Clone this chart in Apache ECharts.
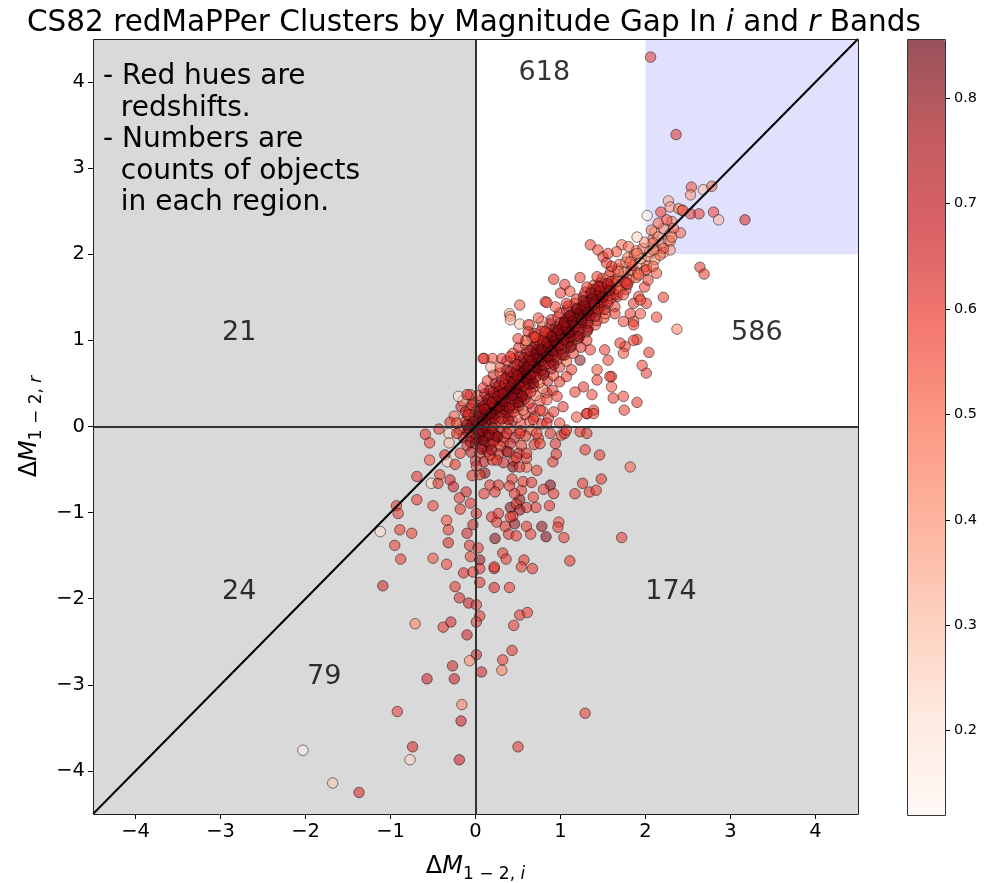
<!DOCTYPE html>
<html><head><meta charset="utf-8">
<script src="https://cdn.jsdelivr.net/npm/echarts@6/dist/echarts.min.js"></script>
<style>html,body{margin:0;padding:0;background:#fff}#c{width:991px;height:883px}</style>
</head><body><div id="c"></div>
<script>
// ---------- data ----------
const xTicks = [-4, -3, -2, -1, 0, 1, 2, 3, 4];
const yTicks = [-4, -3, -2, -1, 0, 1, 2, 3, 4];
const colorbarTicks = [0.2, 0.3, 0.4, 0.5, 0.6, 0.7, 0.8];
const axisMin = -4.5, axisMax = 4.5;
const zMin = 0.12, zMax = 0.856;
const highlightFrom = 2;          // lavender box lower-left corner (x = y = 2)
const diagonal = [[-4.5, -4.5], [4.5, 4.5]];

const regionCounts = ['618', '586', '21', '24', '79', '174'];
const regionCountX = [0.81, 3.31, -2.78, -2.78, -1.78, 2.30];
const regionCountY = [4.10, 1.09, 1.09, -1.92, -2.91, -1.92];

const noteLines = ['- Red hues are', '  redshifts.', '- Numbers are', '  counts of objects', '  in each region.'];

// dense band along the 1:1 line  [dM_i, dM_r, z]
const bandPoints = [
[-0.12,0.06,.62],[-0.04,0.03,.71],[0.02,0.07,.55],[0.06,0.02,.68],[0.11,0.05,.49],[0.17,0.08,.77],[0.23,0.03,.58],[0.29,0.06,.64],[0.36,0.02,.42],[0.44,0.07,.7],[0.53,0.04,.61],[0.64,0.06,.52],[0.78,0.03,.66],
[-0.09,0.13,.57],[-0.01,0.11,.74],[0.04,0.15,.63],[0.09,0.1,.8],[0.14,0.14,.55],[0.2,0.11,.69],[0.27,0.15,.47],[0.34,0.1,.72],[0.41,0.13,.6],[0.49,0.11,.38],[0.58,0.14,.65],[0.7,0.12,.58],[0.86,0.1,.62],
[-0.06,0.21,.45],[0.01,0.18,.67],[0.07,0.22,.73],[0.13,0.19,.59],[0.19,0.23,.82],[0.25,0.18,.64],[0.31,0.21,.53],[0.39,0.2,.7],[0.47,0.22,.6],[0.56,0.19,.44],[0.67,0.21,.68],[0.79,0.18,.56],
[-0.02,0.28,.6],[0.06,0.3,.71],[0.12,0.26,.66],[0.19,0.29,.52],[0.26,0.31,.78],[0.32,0.27,.61],[0.39,0.3,.69],[0.46,0.26,.57],[0.54,0.29,.48],[0.63,0.27,.63],[0.76,0.3,.55],
[0.03,0.36,.54],[0.11,0.38,.68],[0.18,0.35,.74],[0.25,0.39,.6],[0.32,0.34,.66],[0.39,0.37,.8],[0.46,0.39,.51],[0.53,0.35,.7],[0.61,0.38,.59],[0.71,0.36,.46],[0.84,0.39,.64],
[0.09,0.45,.63],[0.17,0.42,.72],[0.25,0.46,.55],[0.32,0.43,.69],[0.39,0.47,.61],[0.46,0.42,.77],[0.53,0.45,.5],[0.6,0.43,.67],[0.69,0.46,.58],[0.79,0.44,.45],[0.91,0.42,.62],
[0.14,0.53,.59],[0.23,0.5,.7],[0.31,0.54,.64],[0.39,0.51,.53],[0.46,0.55,.75],[0.53,0.52,.62],[0.6,0.5,.68],[0.67,0.54,.57],[0.75,0.51,.49],[0.85,0.53,.66],
[0.21,0.6,.66],[0.29,0.62,.55],[0.37,0.58,.72],[0.45,0.61,.6],[0.52,0.63,.79],[0.59,0.59,.58],[0.66,0.62,.63],[0.73,0.6,.51],[0.81,0.63,.7],[0.92,0.59,.57],
[0.29,0.69,.57],[0.37,0.66,.69],[0.45,0.7,.62],[0.53,0.67,.74],[0.6,0.71,.55],[0.67,0.68,.66],[0.74,0.66,.6],[0.81,0.7,.47],[0.89,0.67,.68],[0.99,0.69,.61],
[0.37,0.76,.62],[0.45,0.79,.71],[0.53,0.75,.56],[0.61,0.78,.67],[0.68,0.74,.6],[0.75,0.77,.78],[0.82,0.79,.54],[0.89,0.75,.65],[0.97,0.78,.58],[1.07,0.76,.5],
[0.44,0.85,.58],[0.52,0.82,.67],[0.6,0.86,.73],[0.68,0.83,.61],[0.76,0.87,.55],[0.83,0.84,.7],[0.9,0.82,.63],[0.97,0.86,.49],[1.05,0.83,.66],[1.15,0.85,.6],
[0.51,0.92,.64],[0.59,0.95,.56],[0.67,0.91,.72],[0.75,0.94,.6],[0.83,0.9,.68],[0.91,0.93,.53],[0.98,0.95,.75],[1.05,0.91,.62],[1.13,0.94,.57],[1.24,0.92,.65],
[0.59,1.0,.6],[0.67,1.03,.69],[0.75,0.99,.55],[0.83,1.02,.73],[0.91,0.98,.62],[0.99,1.01,.67],[1.06,1.03,.58],[1.13,0.99,.71],[1.21,1.02,.54],[1.31,1.0,.63],
[0.69,1.08,.66],[0.77,1.11,.58],[0.85,1.07,.71],[0.93,1.1,.62],[1.01,1.06,.76],[1.08,1.09,.57],[1.15,1.11,.64],[1.23,1.07,.69],[1.31,1.1,.52],
[0.79,1.16,.61],[0.87,1.19,.7],[0.95,1.15,.56],[1.03,1.18,.68],[1.11,1.14,.63],[1.18,1.17,.74],[1.25,1.19,.59],[1.33,1.15,.66],[1.41,1.18,.55],
[0.89,1.24,.67],[0.97,1.27,.58],[1.05,1.23,.72],[1.13,1.26,.6],[1.21,1.22,.65],[1.28,1.25,.53],[1.35,1.27,.7],[1.43,1.23,.62],[1.51,1.26,.57],
[0.99,1.32,.6],[1.07,1.35,.68],[1.15,1.31,.55],[1.23,1.34,.71],[1.31,1.3,.63],[1.38,1.33,.58],[1.45,1.35,.66],[1.53,1.31,.5],
[1.09,1.4,.64],[1.17,1.43,.57],[1.25,1.39,.7],[1.33,1.42,.61],[1.41,1.38,.67],[1.48,1.41,.54],[1.56,1.43,.62],[1.64,1.39,.59],
[1.19,1.48,.59],[1.27,1.51,.66],[1.35,1.47,.62],[1.43,1.5,.56],[1.51,1.46,.69],[1.59,1.49,.52],[1.67,1.51,.63],
[1.29,1.56,.63],[1.37,1.59,.55],[1.45,1.55,.68],[1.53,1.58,.6],[1.61,1.54,.57],[1.69,1.57,.48],[1.77,1.59,.61],
[1.39,1.64,.58],[1.47,1.67,.65],[1.55,1.63,.53],[1.63,1.66,.62],[1.71,1.62,.45],[1.79,1.65,.56],
[1.49,1.72,.6],[1.57,1.75,.52],[1.65,1.71,.64],[1.73,1.74,.47],[1.81,1.7,.58],[1.89,1.73,.5],
[1.59,1.8,.55],[1.67,1.83,.62],[1.75,1.79,.44],[1.83,1.82,.57],[1.91,1.78,.49],[1.99,1.81,.4],
[1.69,1.88,.52],[1.77,1.91,.43],[1.85,1.87,.58],[1.93,1.9,.36],[2.01,1.86,.5],
[1.79,1.96,.47],[1.87,1.99,.55],[1.95,1.95,.33],[2.03,1.98,.46],[2.11,1.94,.4],
[1.89,2.04,.42],[1.97,2.07,.5],[2.05,2.03,.3],[2.13,2.06,.44],[2.21,2.02,.37],
[1.99,2.14,.38],[2.09,2.18,.46],[2.19,2.13,.28],[2.27,2.16,.41],
[2.11,2.26,.35],[2.21,2.3,.43],[2.29,2.24,.31]
];

// second, tighter layer of the core of the band
const corePoints = [
[0.0,0.09,.76],[0.07,0.08,.7],[0.15,0.1,.66],[0.22,0.09,.8],[0.31,0.09,.62],[0.39,0.08,.73],
[0.05,0.17,.69],[0.12,0.16,.78],[0.18,0.17,.63],[0.24,0.16,.74],[0.3,0.17,.67],[0.37,0.16,.8],[0.45,0.17,.6],
[0.1,0.24,.72],[0.16,0.25,.65],[0.22,0.24,.79],[0.29,0.25,.68],[0.36,0.24,.74],[0.43,0.25,.62],[0.51,0.24,.7],
[0.15,0.32,.77],[0.22,0.33,.66],[0.29,0.32,.73],[0.36,0.33,.8],[0.43,0.32,.64],[0.5,0.33,.71],[0.58,0.32,.67],
[0.21,0.4,.7],[0.28,0.41,.79],[0.35,0.4,.65],[0.42,0.41,.74],[0.5,0.4,.68],[0.57,0.41,.76],[0.65,0.4,.62],
[0.28,0.48,.74],[0.35,0.49,.67],[0.43,0.48,.81],[0.5,0.49,.7],[0.57,0.48,.64],[0.64,0.49,.77],
[0.35,0.56,.69],[0.42,0.57,.78],[0.5,0.56,.66],[0.57,0.57,.73],[0.64,0.56,.8],[0.71,0.57,.65],
[0.41,0.64,.75],[0.49,0.65,.68],[0.56,0.64,.79],[0.63,0.65,.7],[0.7,0.64,.66],[0.78,0.65,.74],
[0.49,0.72,.71],[0.57,0.73,.8],[0.64,0.72,.67],[0.71,0.73,.76],[0.78,0.72,.69],[0.86,0.73,.63],
[0.57,0.8,.77],[0.64,0.81,.69],[0.72,0.8,.74],[0.79,0.81,.66],[0.86,0.8,.79],[0.94,0.81,.7],
[0.64,0.88,.72],[0.72,0.89,.8],[0.79,0.88,.68],[0.87,0.89,.75],[0.94,0.88,.66],[1.01,0.89,.73],
[0.71,0.96,.76],[0.79,0.97,.67],[0.87,0.96,.8],[0.95,0.97,.71],[1.02,0.96,.64],[1.09,0.97,.74],
[0.8,1.04,.7],[0.88,1.05,.78],[0.96,1.04,.66],[1.04,1.05,.73],[1.11,1.04,.79],[1.19,1.05,.68],
[0.91,1.12,.74],[0.99,1.13,.67],[1.07,1.12,.8],[1.14,1.13,.71],[1.22,1.12,.65],
[1.0,1.2,.69],[1.08,1.21,.77],[1.16,1.2,.66],[1.24,1.21,.74],[1.32,1.2,.7],
[1.1,1.28,.73],[1.18,1.29,.65],[1.26,1.28,.79],[1.34,1.29,.68],[1.41,1.28,.72],
[1.2,1.36,.67],[1.28,1.37,.75],[1.36,1.36,.7],[1.44,1.37,.63],[1.52,1.36,.71],
[1.31,1.44,.72],[1.39,1.45,.64],[1.47,1.44,.69],[1.55,1.45,.6],
[1.41,1.52,.66],[1.49,1.53,.71],[1.57,1.52,.58],[1.65,1.53,.64],
[1.51,1.6,.62],[1.59,1.61,.68],[1.67,1.6,.55],
[1.6,1.68,.6],[1.68,1.69,.52],[1.76,1.68,.63],
[-0.02,-0.08,.77],[0.06,-0.09,.7],[0.14,-0.08,.8],[0.22,-0.09,.66],[0.04,-0.17,.74],[0.12,-0.18,.68],[0.21,-0.17,.79],[0.33,-0.18,.63]
];

// darkest, most crowded ridge of the band (high-redshift objects)
const ridgePoints = [
[0.02,0.04,.82],[0.08,0.06,.78],[0.13,0.12,.84],[0.05,0.11,.8],[-0.03,0.06,.76],[0.18,0.15,.82],[0.1,0.2,.79],[0.24,0.2,.85],[0.2,0.28,.77],[0.28,0.23,.81],[0.31,0.3,.83],[0.26,0.35,.78],[0.35,0.29,.8],[0.38,0.41,.84],[0.33,0.38,.76],[0.44,0.36,.82],[0.41,0.45,.79],[0.48,0.44,.85],[0.45,0.52,.77],[0.52,0.49,.81],[0.55,0.58,.83],[0.49,0.59,.78],[0.6,0.55,.8],[0.58,0.66,.84],[0.65,0.6,.79],[0.62,0.7,.82],[0.69,0.7,.77],[0.72,0.68,.85],[0.66,0.77,.8],[0.74,0.79,.83],[0.78,0.76,.78],[0.71,0.84,.81],[0.8,0.85,.84],[0.85,0.82,.79],[0.77,0.9,.82],[0.86,0.92,.77],[0.9,0.88,.83],[0.84,0.98,.8],[0.93,0.99,.85],[0.97,0.94,.78],[0.9,1.05,.81],[1.0,1.07,.84],[1.04,1.01,.79],[0.97,1.12,.82],[1.07,1.15,.77],[1.1,1.09,.83],[1.05,1.21,.8],[1.14,1.23,.85],[1.18,1.16,.78],[1.12,1.29,.81],[1.21,1.31,.84],[1.25,1.24,.79],[1.19,1.37,.82],[1.28,1.4,.77],[1.32,1.33,.83],[1.27,1.46,.8],[1.37,1.49,.81],[1.4,1.42,.78],[1.36,1.55,.79],[1.46,1.57,.76],[1.5,1.5,.8],[1.45,1.63,.74],[1.55,1.66,.72],[1.58,1.58,.77],
[-0.08,-0.02,.82],[0.04,-0.07,.8],[0.12,-0.02,.84],[0.0,-0.14,.78],[0.09,-0.16,.83],[-0.06,-0.18,.79],[0.16,-0.1,.81],[-0.1,0.02,.8],[0.2,-0.02,.77],[0.26,-0.12,.82],[0.07,-0.26,.8],[0.19,-0.27,.76],
[0.55,0.35,.8],[0.68,0.5,.82],[0.8,0.6,.78],[0.92,0.72,.81],[1.02,0.83,.79],[1.12,0.92,.82],[1.22,1.04,.8],[1.32,1.12,.78],[0.4,0.22,.8],[0.5,0.28,.83]
];

// dense clump just below the origin
const originPoints = [
[-0.18,-0.04,.6],[-0.09,-0.06,.72],[0.01,-0.03,.66],[0.09,-0.05,.78],[0.18,-0.04,.58],[0.28,-0.06,.69],[0.4,-0.03,.55],[0.53,-0.05,.64],[0.66,-0.04,.5],
[-0.14,-0.13,.66],[-0.05,-0.12,.59],[0.04,-0.14,.75],[0.13,-0.11,.62],[0.23,-0.14,.7],[0.34,-0.12,.56],[0.46,-0.13,.67],[0.59,-0.11,.61],[0.74,-0.14,.53],
[-0.1,-0.22,.63],[0.0,-0.2,.7],[0.08,-0.23,.57],[0.17,-0.21,.74],[0.29,-0.23,.6],[0.41,-0.2,.66],[0.54,-0.22,.58],[0.69,-0.21,.62],
[-0.05,-0.3,.69],[0.05,-0.31,.6],[0.14,-0.29,.72],[0.27,-0.32,.64],[0.39,-0.3,.57],[0.51,-0.31,.68],
[0.0,-0.4,.62],[0.1,-0.41,.7],[0.2,-0.39,.58],[0.33,-0.42,.65],[0.45,-0.4,.6],
[-0.17,0.23,.66],[-0.08,0.14,.58],[-0.12,0.17,.7],[-0.25,0.12,.5],[-0.3,0.05,.63],[-0.22,0.04,.57],[-0.15,0.3,.45],[-0.04,0.25,.68]
];

// scattered points read individually (mostly below zero)
const lowerPoints = [
[-0.59,-0.09,.62],[-0.43,-0.03,.6],[-0.31,-0.08,.25],[-0.54,-0.19,.58],[-0.31,-0.19,.3],[-0.54,-0.39,.55],[-0.36,-0.33,.64],[-0.33,-0.41,.25],[-0.24,-0.44,.6],[-0.69,-0.58,.62],[-0.42,-0.56,.6],[-0.52,-0.66,.22],[-0.44,-0.66,.62],[-0.30,-0.62,.65],[-0.26,-0.70,.68],[-0.18,-0.31,.58],[-0.11,-0.76,.66],[-0.19,-0.83,.6],[-0.06,-0.89,.63],[-0.69,-0.85,.6],[-0.50,-0.92,.58],[-0.18,-0.96,.6],[0.01,-1.01,.62],[-0.93,-0.92,.62],[-0.91,-1.01,.6],[-0.34,-1.09,.55],[-0.03,-1.14,.66],[-1.12,-1.22,.2],[-0.89,-1.20,.6],[-0.75,-1.24,.58],[-0.32,-1.20,.6],[-0.10,-1.24,.66],[-0.32,-1.35,.64],[-0.95,-1.38,.6],[-0.07,-1.38,.62],[0.03,-1.41,.6],[-0.50,-1.53,.56],[-0.34,-1.60,.58],[-0.06,-1.51,.6],[0.05,-1.55,.78],[-0.88,-1.54,.6],[-1.09,-1.85,.66],[0.05,-1.65,.62],[-0.14,-1.70,.64],[-0.03,-1.69,.6],[0.05,-1.81,.62],[0.22,-1.65,.64],[0.22,-1.87,.64],[0.40,-1.87,.6],[-0.24,-1.86,.62],[-0.19,-1.99,.64],[-0.08,-2.05,.68],[0.01,-2.07,.6],[0.05,-2.20,.62],[0.01,-2.27,.6],[-0.71,-2.29,.45],[-0.38,-2.33,.62],[-0.29,-2.27,.66],[-0.10,-2.42,.68],[0.45,-2.31,.6],[0.52,-2.19,.62],[0.61,-2.16,.6],[0.43,-2.60,.62],[0.01,-2.65,.66],[-0.07,-2.72,.42],[0.32,-2.71,.6],[-0.27,-2.78,.66],
[0.07,-2.85,.66],[0.31,-2.83,.45],[-0.57,-2.93,.68],[-0.25,-2.93,.68],[-0.16,-3.23,.45],[-0.17,-3.42,.68],[-0.92,-3.31,.6],[1.29,-3.33,.6],[-0.74,-3.72,.66],[0.50,-3.72,.62],[-2.03,-3.76,.15],[-0.77,-3.87,.25],[-0.19,-3.87,.68],[-1.68,-4.14,.28],[-1.37,-4.25,.65],
[0.19,-1.05,.62],[0.25,-1.11,.6],[0.35,-1.16,.62],[0.41,-0.94,.8],[0.46,-1.13,.8],[0.39,-1.25,.62],[0.48,-1.27,.6],[0.60,-1.16,.62],[0.65,-1.25,.6],[0.23,-1.30,.82],[0.32,-1.47,.62],[0.36,-1.54,.6],[0.57,-1.55,.62],[0.54,-1.63,.6],[0.67,-1.65,.62],[0.22,-1.63,.6],[0.78,-1.16,.8],[0.83,-1.28,.82],[0.98,-1.11,.55],[0.97,-1.17,.6],[1.04,-1.29,.6],[1.11,-1.56,.62],[0.87,-0.92,.62],[0.71,-0.94,.6],[0.60,-0.94,.62],[0.52,-0.85,.8],[0.48,-0.90,.62],[0.52,-0.97,.78],[0.68,-0.82,.6],[0.44,-1.04,.6],[0.27,-1.01,.62],[0.54,-0.74,.6],[0.46,-0.78,.62],[0.56,-0.64,.6],[0.66,-0.65,.62],[0.43,-0.61,.6],[0.40,-0.69,.62],[0.88,-0.68,.82],[0.80,-0.73,.6],[0.92,-0.78,.62],[1.17,-0.78,.6],[1.26,-0.66,.62],[1.34,-0.76,.6],[1.42,-0.74,.6],[1.48,-0.61,.62],[1.82,-0.47,.52],[1.72,-1.29,.6],[1.46,-0.33,.62],[1.29,-0.27,.6],[0.91,-0.41,.6],[0.95,-0.32,.62],[0.72,-0.51,.6],[0.60,-0.47,.5],[0.44,-0.47,.82],[0.52,-0.47,.62],[0.60,-0.37,.6],[0.48,-0.36,.62],[0.37,-0.29,.8],[0.25,-0.39,.62],[0.17,-0.33,.6],[0.11,-0.54,.8],[0.05,-0.56,.62],[0.01,-0.46,.6],[-0.04,-0.57,.62],[0.17,-0.68,.6],[0.27,-0.68,.62],[0.10,-0.78,.6],[0.23,-0.76,.6],[0.41,-1.05,.62],[0.76,-0.20,.6],[0.94,-0.20,.62],[1.01,-0.10,.6],[1.05,-0.08,.62],[1.23,-0.06,.6],[1.31,-0.08,.62],[0.72,-0.08,.6],[0.60,-0.31,.62],[0.21,-0.18,.6]
];

// scattered points read individually (upper half / band edges)
const upperPoints = [
[2.06,4.29,.6],[2.36,3.39,.62],[2.54,2.78,.55],[2.53,2.69,.4],[2.68,2.75,.3],[2.78,2.79,.5],[2.27,2.62,.35],[2.29,2.55,.38],[2.18,2.49,.6],[2.02,2.45,.15],[2.43,2.51,.55],[2.53,2.47,.6],[2.63,2.47,.6],[2.80,2.49,.58],[2.86,2.40,.32],[3.17,2.40,.65],[2.64,1.85,.62],[2.69,1.77,.6],[2.15,2.36,.5],[2.31,2.38,.45],[2.41,2.25,.5],[2.29,2.15,.42],[2.29,2.05,.4],[2.07,2.28,.45],[1.90,2.20,.25],
[1.35,2.11,.6],[1.44,2.05,.58],[1.50,1.97,.6],[2.21,1.50,.6],[2.13,1.27,.58],[2.37,1.13,.45],[2.04,0.86,.62],[2.01,0.62,.6],[1.96,0.71,.58],[1.90,0.28,.62],[1.75,0.19,.6],[1.62,0.33,.6],[1.74,0.35,.58],[1.60,0.58,.6],[1.60,0.46,.55],[1.43,0.54,.6],[1.39,0.19,.62],[1.31,0.15,.6],[1.76,0.93,.6],[1.74,0.85,.55],[1.90,1.01,.62],[1.86,1.22,.55],[2.01,1.43,.6],[1.99,1.62,.58],[0.92,1.71,.62],[1.23,1.73,.6],[0.52,1.41,.55],[0.40,1.31,.3],[0.41,1.28,.45],[0.52,1.19,.3],[0.82,1.45,.6],[0.94,1.39,.55],[0.10,0.79,.6],[0.20,0.79,.58],[-0.20,0.35,.2],[-0.06,0.37,.6],
[1.05,1.65,.62],[1.11,1.57,.55],[1.00,1.55,.6],[0.84,1.44,.58],[0.64,1.18,.35],[1.72,2.11,.5],[2.39,2.53,.45],[2.44,2.51,.5],[2.25,2.40,.55],[2.33,2.30,.5],[2.31,2.20,.45],[2.15,2.20,.4],[2.09,2.13,.48],[2.21,2.07,.55],[2.17,1.99,.5],[2.09,2.05,.42],[2.01,1.82,.58],[2.09,1.86,.5],[2.13,1.78,.55],[2.03,1.70,.6],[1.92,1.76,.52],[1.92,1.51,.6],[1.86,1.43,.62],[1.74,1.53,.55],[1.78,1.66,.58],[1.68,1.80,.45],[1.60,1.86,.6],[1.82,1.91,.5],[1.90,2.01,.45],[1.80,2.09,.52],[1.66,2.03,.55],[1.56,2.01,.6],[1.54,1.90,.62],[1.43,1.74,.6],[1.48,1.62,.58],[1.41,1.59,.65],[1.31,1.62,.62],[1.94,1.47,.58],[1.82,1.31,.6],[1.94,1.31,.55],[1.86,1.18,.6],[1.74,1.22,.58],[1.64,1.31,.6],[1.03,1.16,.65],[0.96,1.08,.62],[0.84,1.08,.6],[0.78,1.22,.3],[0.80,1.00,.62],[1.86,1.00,.58],[1.70,0.97,.6],[0.68,1.04,.58],[0.60,1.00,.35],
[0.41,1.24,.3],[0.62,1.18,.55],[1.07,1.43,.6],[0.09,0.79,.6],[0.31,0.79,.62],[0.41,0.81,.58],[0.18,0.69,.35],[-0.10,0.37,.62],[0.50,1.02,.6],[0.62,1.10,.62],[0.70,1.04,.58],[0.82,1.10,.6],[0.74,1.26,.55],[1.35,0.89,.6],[1.52,0.89,.6],[1.56,0.77,.58],[1.43,0.66,.55],[1.58,0.58,.6],[1.27,0.46,.62],[1.17,0.40,.6],[1.37,0.37,.58],[1.31,0.15,.62],[1.39,0.15,.6],[1.19,0.11,.55],[1.23,0.77,.8],[1.13,0.66,.6],[0.99,0.52,.62],[1.07,0.58,.6],[0.96,0.35,.6],[1.03,0.23,.62],[0.92,0.17,.6],[0.84,0.31,.55],[0.76,0.19,.6],[0.68,0.08,.62],[0.84,0.04,.6],[0.99,0.04,.58],[1.07,-0.04,.6],[0.88,-0.08,.62],[0.52,-0.08,.6],[0.37,-0.08,.65],[0.23,-0.10,.6],[0.09,-0.06,.7],[-0.22,-0.08,.62]
];

// ---------- styling ----------
const FONT = 'DejaVu Sans';
const G = { left: 93, top: 39, width: 765, height: 775 };
const CB = { left: 907, top: 39, width: 38, height: 776 };
const A = 0.68;
const redsAlpha = ['rgba(255,245,240,A)','rgba(254,224,210,A)','rgba(252,187,161,A)','rgba(252,146,114,A)','rgba(251,106,74,A)','rgba(239,59,44,A)','rgba(203,24,29,A)','rgba(165,15,21,A)','rgba(103,0,13,A)'].map(s => s.replace('A', A));
const minus = v => String(v).replace('-', '\u2212');

const allPoints = bandPoints.concat(corePoints, originPoints, lowerPoints, upperPoints, ridgePoints);

const subRich = {
  d: { fontSize: 24, fontFamily: FONT, color: '#000', verticalAlign: 'top', lineHeight: 28 },
  m: { fontSize: 24, fontFamily: FONT, fontStyle: 'italic', color: '#000', verticalAlign: 'top', lineHeight: 28 },
  s: { fontSize: 17, fontFamily: FONT, color: '#000', verticalAlign: 'top', lineHeight: 20, padding: [11, 0, 0, 0] },
  si: { fontSize: 17, fontFamily: FONT, fontStyle: 'italic', color: '#000', verticalAlign: 'top', lineHeight: 20, padding: [11, 0, 0, 0] }
};

const chart = echarts.init(document.getElementById('c'), null, { renderer: 'canvas' });
chart.setOption({
  animation: false,
  backgroundColor: '#fff',
  title: {
    text: '{a|CS82 redMaPPer Clusters by Magnitude Gap In }{i|i}{a| and }{i|r}{a| Bands}',
    left: 22, top: 3,
    textStyle: { fontWeight: 'normal', rich: {
      a: { fontSize: 29.5, fontFamily: FONT, fontWeight: 'normal', color: '#000' },
      i: { fontSize: 29.5, fontFamily: FONT, fontWeight: 'normal', fontStyle: 'italic', color: '#000' }
    } }
  },
  grid: [
    Object.assign({ show: true, backgroundColor: '#d9d9d9', borderWidth: 0, outerBoundsMode: 'none', containLabel: false }, G),
    Object.assign({ show: false, outerBoundsMode: 'none', containLabel: false }, CB)
  ],
  xAxis: [{
    type: 'value', min: axisMin, max: axisMax, gridIndex: 0,
    axisLine: { show: false, onZero: false },
    splitLine: { show: false },
    axisTick: { show: true, customValues: xTicks, length: 5, lineStyle: { color: '#000', width: 1 } },
    axisLabel: { customValues: xTicks, formatter: minus, fontSize: 19.5, fontFamily: FONT, color: '#000', margin: 8 },
    name: '{d|\u0394}{m|M}{s|1 \u2212 2, }{si|i}', nameLocation: 'middle', nameGap: 41,
    nameTextStyle: { rich: subRich }
  }, {
    type: 'value', gridIndex: 1, min: 0, max: 1, show: false
  }],
  yAxis: [{
    type: 'value', min: axisMin, max: axisMax, gridIndex: 0,
    axisLine: { show: false, onZero: false },
    splitLine: { show: false },
    axisTick: { show: true, customValues: yTicks, length: 5, lineStyle: { color: '#000', width: 1 } },
    axisLabel: { customValues: yTicks, formatter: minus, fontSize: 19.5, fontFamily: FONT, color: '#000', margin: 8 },
    name: '{d|\u0394}{m|M}{s|1 \u2212 2, }{si|r}', nameLocation: 'middle', nameGap: 40,
    nameTextStyle: { rich: subRich }
  }, {
    type: 'value', gridIndex: 1, position: 'right', min: zMin, max: zMax,
    axisLine: { show: false, onZero: false }, splitLine: { show: false },
    axisTick: { show: true, customValues: colorbarTicks, length: 5, lineStyle: { color: '#000' } },
    axisLabel: { customValues: colorbarTicks, formatter: v => Number(v).toFixed(1), fontSize: 14.5, fontFamily: FONT, color: '#000', margin: 9 }
  }],
  visualMap: {
    type: 'continuous', min: zMin, max: zMax, dimension: 2, seriesIndex: 2,
    inRange: { color: redsAlpha },
    outOfRange: { color: 'rgba(255,255,255,0)' },
    left: CB.left, top: CB.top, itemWidth: CB.width, itemHeight: CB.height,
    padding: 0, calculable: false, hoverLink: false, text: null, orient: 'vertical'
  },
  series: [
    { // white first-quadrant region
      type: 'line', xAxisIndex: 0, yAxisIndex: 0, data: [], silent: true, z: 1,
      markArea: { silent: true, itemStyle: { color: '#ffffff' },
        data: [[{ xAxis: 0, yAxis: 0 }, { xAxis: axisMax, yAxis: axisMax }]] }
    },
    { // lavender corner
      type: 'line', xAxisIndex: 0, yAxisIndex: 0, data: [], silent: true, z: 1.5,
      markArea: { silent: true, itemStyle: { color: '#e1e1fd' },
        data: [[{ xAxis: highlightFrom, yAxis: highlightFrom }, { xAxis: axisMax, yAxis: axisMax }]] }
    },
    { // clusters
      type: 'scatter', xAxisIndex: 0, yAxisIndex: 0, data: allPoints, symbolSize: 10.5, z: 3,
      itemStyle: { borderColor: 'rgba(0,0,0,0.6)', borderWidth: 1 },
      emphasis: { disabled: true }
    },
    { // 1:1 line and zero lines
      type: 'line', xAxisIndex: 0, yAxisIndex: 0, data: diagonal, symbol: 'none', z: 5, silent: true,
      lineStyle: { color: '#000', width: 2 },
      markLine: { silent: true, symbol: 'none', label: { show: false },
        lineStyle: { color: '#333', width: 2, type: 'solid' },
        data: [{ xAxis: 0 }, { yAxis: 0 }] }
    },
    { // region counts
      type: 'scatter', xAxisIndex: 0, yAxisIndex: 0, symbolSize: 1, z: 6, silent: true,
      itemStyle: { color: 'transparent' },
      data: regionCounts.map((t, i) => ({ name: t, value: [regionCountX[i], regionCountY[i]] })),
      label: { show: true, position: 'inside', formatter: p => p.name, fontSize: 27, fontFamily: FONT, color: '#000' }
    },
    { type: 'scatter', xAxisIndex: 1, yAxisIndex: 1, data: [] }
  ],
  graphic: [
    { type: 'rect', z: 100, silent: true, shape: { x: G.left + 0.5, y: G.top + 0.5, width: G.width, height: G.height },
      style: { fill: 'none', stroke: '#222', lineWidth: 1 } },
    { type: 'rect', z: 100, silent: true, shape: { x: CB.left + 0.5, y: CB.top + 0.5, width: CB.width, height: CB.height },
      style: { fill: 'none', stroke: '#333', lineWidth: 1 } },
    { type: 'text', z: 100, silent: true, x: 103, y: 61,
      style: { text: noteLines.join('\n'), font: '28px "DejaVu Sans"', fill: '#000', lineHeight: 31.5 } }
  ]
});
</script></body></html>
